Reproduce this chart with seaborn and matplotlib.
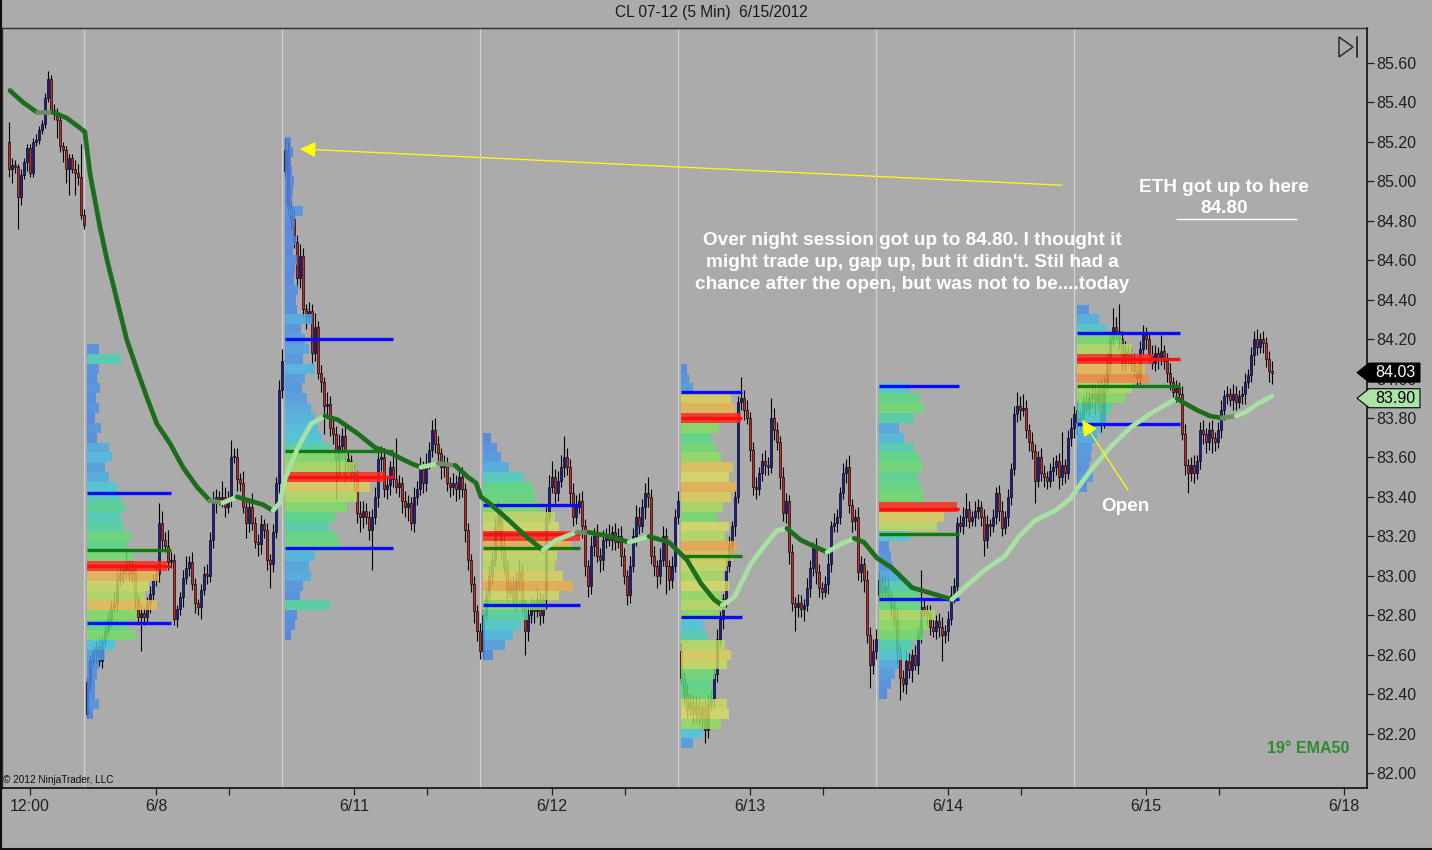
import numpy as np
import pandas as pd
import matplotlib
matplotlib.use("Agg")
import matplotlib.pyplot as plt
import seaborn as sns
from matplotlib.colors import LinearSegmentedColormap
from matplotlib.patches import Polygon
from matplotlib.lines import Line2D
import matplotlib.transforms as mtransforms

# ---------------- data ----------------
session_names = ["6/7", "6/8", "6/11", "6/12", "6/13", "6/14", "6/15"]
first_open = [85.20, 82.30, 85.05, 82.62, 82.62, 82.90, 83.84]

c_0607 = [85.06, 85.08, 85.07, 84.92, 85.03, 85.10, 85.17, 85.04, 85.20, 85.21,
          85.26, 85.29, 85.42, 85.52, 85.36, 85.35, 85.31, 85.18, 85.16, 85.06,
          85.12, 85.06, 85.04, 85.02, 84.83, 84.78]
up_0607 = [10, 4, 3, 2, 3, 2, 2, 2, 2, 3, 2, 2, 3, 4, 2, 3, 2, 2, 2, 2, 2, 2, 5, 5, 17, 3]
dn_0607 = [4, 7, 3, 16, 4, 2, 5, 2, 2, 2, 2, 2, 2, 2, 2, 4, 9, 3, 6, 7, 13, 2, 11, 4, 2, 2]

c_0608 = [82.46, 82.57, 82.61, 82.64, 82.57, 82.67, 82.72, 82.78, 82.84, 82.86,
          82.98, 83.01, 83.03, 83.04, 83.01, 83.03, 82.88, 82.79, 82.81, 82.79,
          82.86, 82.91, 82.98, 83.01, 83.27, 83.18, 83.15, 83.07, 83.08, 82.78,
          82.83, 82.89, 82.99, 83.04, 83.07, 82.96, 82.86, 82.84, 82.93, 83.01,
          83.00, 83.18, 83.37, 83.40, 83.39, 83.40, 83.35, 83.39, 83.60, 83.60,
          83.49, 83.47, 83.35, 83.27, 83.35, 83.27, 83.17, 83.16, 83.26, 83.23,
          83.08, 83.06, 83.22, 83.47, 83.94, 84.09]
up_0608 = [2, 3, 4, 3, 5, 3, 2, 4, 3, 6, 5, 4, 3, 9, 4, 5, 3, 2, 4, 3,
           3, 4, 3, 5, 10, 6, 4, 8, 4, 3, 2, 3, 4, 6, 3, 5, 3, 2, 3, 4,
           5, 4, 6, 4, 3, 8, 5, 4, 9, 5, 5, 3, 6, 4, 4, 7, 3, 4, 5, 3,
           4, 3, 4, 3, 5, 6]
dn_0608 = [2, 4, 3, 5, 3, 4, 3, 2, 4, 3, 4, 3, 5, 4, 3, 4, 5, 3, 17, 4,
           3, 5, 4, 3, 4, 5, 3, 4, 3, 3, 4, 3, 5, 3, 4, 3, 5, 4, 6, 3,
           4, 3, 4, 5, 3, 4, 5, 3, 4, 3, 6, 4, 3, 8, 5, 4, 3, 6, 5, 4,
           5, 12, 4, 3, 5, 4]

c_0611 = [85.16, 84.87, 84.81, 84.69, 84.51, 84.62, 84.35, 84.31, 84.34, 84.13,
          84.26, 84.03, 83.98, 83.86, 83.87, 83.75, 83.72, 83.59, 83.66, 83.71,
          83.59, 83.58, 83.52, 83.49, 83.32, 83.30, 83.33, 83.30, 83.23, 83.30,
          83.40, 83.59, 83.60, 83.44, 83.46, 83.55, 83.49, 83.45, 83.47, 83.38,
          83.35, 83.37, 83.27, 83.40, 83.44, 83.54, 83.47, 83.57, 83.64, 83.74,
          83.67, 83.62, 83.55, 83.56, 83.47, 83.45, 83.47, 83.44, 83.50, 83.44,
          83.23, 83.08, 82.96, 82.82, 82.72, 82.62]
up_0611 = [6, 4, 3, 5, 4, 6, 4, 3, 5, 4, 7, 3, 4, 3, 6, 4, 5, 4, 6, 4,
           5, 4, 3, 5, 4, 6, 5, 4, 3, 4, 5, 4, 6, 5, 4, 3, 5, 21, 4, 3,
           5, 4, 3, 5, 4, 6, 4, 5, 4, 5, 6, 4, 3, 5, 4, 3, 5, 4, 3, 5,
           3, 4, 3, 4, 3, 4]
dn_0611 = [3, 4, 5, 3, 4, 5, 4, 6, 3, 5, 4, 3, 5, 14, 5, 4, 5, 20, 8, 7,
           12, 5, 4, 6, 5, 8, 6, 4, 5, 20, 4, 5, 6, 4, 5, 5, 4, 3, 5, 6,
           5, 7, 4, 5, 4, 3, 5, 4, 3, 4, 5, 4, 6, 5, 4, 5, 4, 6, 5, 4,
           6, 5, 4, 6, 5, 4]

c_0612 = [82.80, 82.90, 83.00, 83.08, 83.25, 83.32, 83.15, 83.05, 82.92, 82.95,
          82.88, 82.98, 83.02, 82.85, 82.72, 82.80, 82.85, 82.82, 82.88, 82.80,
          82.88, 83.30, 83.45, 83.50, 83.42, 83.48, 83.55, 83.60, 83.55, 83.42,
          83.30, 83.35, 83.38, 83.25, 83.05, 82.95, 83.15, 83.20, 83.10, 83.08,
          83.18, 83.20, 83.18, 83.22, 83.17, 83.20, 83.10, 83.00, 82.90, 83.05,
          83.20, 83.30, 83.25, 83.35, 83.42, 83.40, 83.10, 83.05, 83.00, 83.08,
          83.20, 83.05, 82.98, 83.05, 83.30, 83.38]
up_0612 = [3, 4, 5, 4, 5, 6, 4, 5, 3, 4, 5, 4, 6, 4, 3, 5, 4, 3, 6, 4,
           3, 5, 6, 8, 4, 5, 6, 11, 5, 4, 5, 6, 4, 5, 4, 3, 5, 4, 6, 4,
           5, 4, 6, 3, 5, 4, 5, 4, 3, 5, 4, 6, 5, 4, 5, 8, 4, 5, 3, 6,
           5, 4, 3, 5, 4, 5]
dn_0612 = [4, 3, 5, 4, 3, 5, 6, 4, 5, 3, 4, 6, 5, 4, 12, 5, 4, 6, 3, 5,
           4, 5, 4, 3, 5, 4, 3, 5, 4, 6, 5, 4, 3, 6, 5, 6, 4, 5, 3, 6,
           5, 4, 3, 5, 4, 3, 5, 4, 5, 4, 3, 5, 4, 3, 6, 5, 4, 5, 6, 4,
           3, 14, 5, 4, 3, 4]

c_0613 = [82.48, 82.40, 82.32, 82.36, 82.30, 82.34, 82.28, 82.33, 82.22, 82.35,
          82.38, 82.50, 82.68, 82.78, 82.88, 83.05, 83.15, 83.25, 83.40, 83.88,
          83.90, 83.84, 83.80, 83.64, 83.45, 83.44, 83.52, 83.58, 83.56, 83.55,
          83.80, 83.74, 83.68, 83.50, 83.32, 83.38, 83.12, 82.86, 82.84, 82.86,
          82.83, 82.85, 82.94, 83.04, 83.14, 83.02, 82.94, 82.92, 82.96, 83.06,
          83.25, 83.27, 83.30, 83.42, 83.52, 83.55, 83.36, 83.28, 83.30, 83.02,
          83.06, 82.98, 82.70, 82.55, 82.62, 82.68]
up_0613 = [4, 3, 5, 4, 3, 5, 4, 3, 4, 5, 4, 3, 5, 4, 3, 4, 5, 3, 4, 3,
           11, 4, 5, 3, 4, 5, 3, 4, 6, 4, 10, 5, 4, 3, 5, 4, 3, 4, 3, 5,
           4, 3, 5, 4, 3, 5, 4, 3, 4, 6, 3, 5, 4, 3, 5, 4, 6, 3, 4, 5,
           4, 3, 5, 4, 6, 5]
dn_0613 = [3, 5, 4, 3, 5, 4, 3, 6, 7, 4, 3, 5, 4, 3, 5, 4, 3, 4, 5, 3,
           4, 5, 3, 6, 4, 5, 3, 4, 5, 4, 3, 5, 4, 6, 4, 5, 6, 4, 12, 5,
           4, 6, 3, 5, 4, 6, 5, 4, 3, 5, 4, 3, 5, 4, 3, 5, 4, 6, 5, 4,
           5, 6, 4, 12, 5, 4]

c_0614 = [82.98, 82.92, 82.95, 82.90, 82.84, 82.78, 82.62, 82.48, 82.45, 82.57,
          82.52, 82.60, 82.55, 82.70, 82.84, 82.82, 82.80, 82.74, 82.72, 82.77,
          82.74, 82.70, 82.72, 82.78, 82.90, 82.95, 83.27, 83.25, 83.30, 83.34,
          83.28, 83.30, 83.33, 83.35, 83.30, 83.18, 83.26, 83.25, 83.30, 83.42,
          83.33, 83.24, 83.30, 83.40, 83.54, 83.82, 83.86, 83.84, 83.85, 83.74,
          83.68, 83.63, 83.48, 83.60, 83.52, 83.50, 83.48, 83.53, 83.55, 83.58,
          83.50, 83.56, 83.52, 83.70, 83.75, 83.82]
up_0614 = [4, 3, 5, 4, 3, 4, 5, 3, 4, 5, 4, 3, 5, 4, 19, 4, 3, 5, 4, 3,
           4, 5, 3, 4, 5, 4, 3, 4, 5, 8, 4, 3, 5, 4, 3, 4, 5, 3, 4, 3,
           4, 5, 3, 4, 3, 4, 7, 5, 7, 4, 3, 5, 4, 3, 5, 4, 3, 4, 5, 3,
           4, 17, 3, 4, 5, 4]
dn_0614 = [3, 5, 4, 3, 5, 4, 6, 11, 4, 5, 4, 6, 3, 5, 4, 3, 5, 4, 3, 4,
           5, 13, 4, 5, 3, 4, 5, 3, 4, 5, 4, 3, 5, 4, 5, 8, 4, 5, 3, 4,
           5, 4, 3, 5, 4, 3, 4, 5, 3, 4, 5, 4, 11, 3, 4, 5, 4, 3, 5, 4,
           6, 4, 5, 3, 4, 5]

c_0615 = [83.78, 83.80, 83.88, 83.85, 83.90, 83.92, 83.88, 83.94, 83.78, 83.97,
          84.08, 84.20, 84.26, 84.24, 84.20, 84.08, 84.14, 84.12, 84.08, 84.04,
          84.01, 84.15, 84.22, 84.20, 84.12, 84.08, 84.13, 84.10, 84.14, 84.09,
          84.03, 83.98, 83.93, 83.95, 83.92, 83.72, 83.56, 83.52, 83.56, 83.52,
          83.58, 83.74, 83.72, 83.68, 83.74, 83.70, 83.68, 83.74, 83.84, 83.91,
          83.92, 83.89, 83.92, 83.88, 83.91, 83.92, 83.98, 84.02, 84.12, 84.20,
          84.16, 84.20, 84.18, 84.10, 84.04, 84.03]
up_0615 = [5, 4, 3, 6, 4, 5, 3, 4, 6, 4, 5, 4, 10, 5, 14, 4, 5, 3, 4, 5,
           3, 4, 5, 4, 3, 5, 4, 3, 8, 3, 4, 5, 3, 4, 3, 4, 5, 3, 4, 5,
           3, 4, 5, 3, 4, 5, 3, 4, 5, 3, 4, 3, 5, 4, 3, 4, 5, 3, 4, 4,
           5, 3, 4, 3, 4, 5]
dn_0615 = [6, 4, 5, 3, 4, 5, 6, 4, 5, 3, 4, 5, 3, 4, 5, 3, 4, 5, 4, 3,
           5, 4, 3, 5, 4, 3, 4, 5, 3, 4, 5, 4, 3, 5, 4, 3, 5, 10, 4, 5,
           3, 4, 5, 6, 4, 8, 5, 3, 4, 5, 4, 3, 5, 4, 3, 4, 5, 3, 4, 5,
           4, 3, 5, 4, 6, 6]

closes = [c_0607, c_0608, c_0611, c_0612, c_0613, c_0614, c_0615]
upper_wicks = [up_0607, up_0608, up_0611, up_0612, up_0613, up_0614, up_0615]
lower_wicks = [dn_0607, dn_0608, dn_0611, dn_0612, dn_0613, dn_0614, dn_0615]

# volume profiles: top price level and volume per 0.05 level (top -> bottom)
prof_tops = [84.15, 85.20, 83.70, 84.05, 83.95, 84.35]
vol_0608 = [12, 34, 12, 10, 13, 9, 12, 8, 14, 10, 22, 25, 18, 22, 30, 34, 38, 34, 36, 44,
            40, 46, 80, 72, 62, 58, 70, 50, 40, 48, 28, 18, 12, 10, 8, 8, 12, 6]
vol_0611 = [6, 8, 6, 7, 9, 8, 7, 18, 10, 9, 11, 8, 12, 10, 9, 13, 11, 12, 27, 16,
            20, 24, 18, 30, 20, 17, 22, 26, 30, 33, 37, 45, 62, 70, 100, 85, 72, 62, 50, 44,
            52, 55, 30, 24, 26, 18, 15, 45, 12, 10, 6]
vol_0612 = [8, 14, 18, 26, 40, 50, 52, 58, 72, 76, 97, 88, 74, 72, 80, 90, 76, 62, 45, 38,
            30, 22, 10]
vol_0613 = [6, 8, 12, 50, 54, 60, 38, 30, 35, 40, 52, 48, 55, 50, 42, 36, 48, 44, 56, 52,
            46, 42, 48, 40, 44, 38, 22, 26, 44, 50, 46, 34, 30, 32, 46, 48, 40, 22, 12]
vol_0614 = [30, 40, 45, 35, 20, 25, 34, 40, 44, 38, 42, 45, 78, 65, 58, 30, 10, 12, 14, 22,
            34, 40, 42, 56, 50, 45, 34, 30, 20, 16, 12, 8]
vol_0615 = [12, 22, 30, 45, 55, 76, 68, 72, 55, 48, 35, 30, 24, 20, 15, 14, 12, 16, 10]
profiles = [vol_0608, vol_0611, vol_0612, vol_0613, vol_0614, vol_0615]

# value area high/low, point of control, green level, line length (px of chart)
va_high = [83.42, 84.20, 83.36, 83.93, 83.96, 84.23]
va_low = [82.76, 83.14, 82.85, 82.79, 82.88, 83.77]
poc = [83.05, 83.50, 83.21, 83.80, 83.34, 84.10]
green_lvl = [83.13, 83.63, 83.14, 83.10, 83.21, 83.96]
level_len = [84, 108, 97, 61, 80, 103]

# EMA50: bar index, value
ema_n = [0.3, 4.7, 9.3, 11.3, 14.7, 19.3, 23.7, 25.3, 27, 30.3, 32.7, 39.2, 43, 46.3, 49.3,
         53.7, 58, 62.7, 67, 71.3, 76, 80.3, 84.7, 88, 90.3, 92, 96.3, 100.7, 105.3, 109.7,
         116.3, 122, 127.3, 134, 137.3, 143, 148.7, 153, 155.7, 157.3, 160, 166.7, 172.3, 178,
         182.3, 189, 193.3, 200, 206.7, 213.3, 220, 226, 230.7, 235, 237.7, 241.7, 247.3,
         251.7, 256, 259.3, 264, 268.3, 272.7, 277.3, 281.7, 285, 289.3, 294.3, 301, 307.7,
         314.3, 320, 325.3, 332, 336.7, 342, 348.7, 353.7, 360.3, 367, 373.7, 380.3, 387,
         389.3, 391.3, 396, 400.3, 404.3, 409, 412.3, 416, 421]
ema_v = [85.46, 85.40, 85.35, 85.35, 85.35, 85.32, 85.27, 85.25, 85.04, 84.77, 84.60, 84.20,
         84.03, 83.89, 83.77, 83.67, 83.55, 83.45, 83.38, 83.37, 83.40, 83.38, 83.36, 83.33,
         83.37, 83.49, 83.65, 83.77, 83.81, 83.79, 83.72, 83.65, 83.62, 83.57, 83.55, 83.57,
         83.56, 83.50, 83.47, 83.40, 83.37, 83.28, 83.20, 83.13, 83.18, 83.22, 83.22, 83.20,
         83.17, 83.20, 83.17, 83.08, 82.96, 82.88, 82.85, 82.89, 83.06, 83.15, 83.23, 83.24,
         83.18, 83.15, 83.12, 83.16, 83.19, 83.17, 83.09, 83.04, 82.94, 82.91, 82.88, 82.96,
         83.03, 83.10, 83.20, 83.28, 83.33, 83.39, 83.53, 83.65, 83.75, 83.82, 83.88, 83.90,
         83.88, 83.84, 83.81, 83.80, 83.81, 83.83, 83.87, 83.91]

x_tick_labels = ["12:00", "6/8", "6/11", "6/12", "6/13", "6/14", "6/15", "6/18"]
y_tick_values = [82.00, 82.20, 82.40, 82.60, 82.80, 83.00, 83.20, 83.40, 83.60,
                 83.80, 84.00, 84.20, 84.40, 84.60, 84.80, 85.00, 85.20, 85.40, 85.60]
last_price = 84.03
last_ema = 83.90

# ---------------- style ----------------
BG = "#ababab"
UP = "#1c1ca8"
DOWN = "#c82828"
EMA_COLORS = {"up": "#a8e2a2", "dn": "#1d6d1d", "flat": "#6e8d62"}

sns.set_theme(style="white", rc={"axes.facecolor": BG, "figure.facecolor": BG})
plt.rcParams["font.family"] = ["Liberation Sans", "DejaVu Sans"]

fig = plt.figure(figsize=(14.32, 8.5), dpi=100, facecolor=BG)
ax = fig.add_axes([2 / 1432, 62 / 850, 1365 / 1432, 760 / 850])
ax.set_facecolor(BG)

# ---------------- build bars ----------------
rows = []
n = 0
sess_first_bar = []
for s, (o0, cs, us, ds) in enumerate(zip(first_open, closes, upper_wicks, lower_wicks)):
    sess_first_bar.append(n)
    prev = o0
    for c, u, d in zip(cs, us, ds):
        o = prev
        rows.append(dict(n=n, open=o, close=c,
                         high=max(o, c) + u / 100.0, low=min(o, c) - d / 100.0))
        prev = c
        n += 1
bars = pd.DataFrame(rows)

# session separators
for fb in sess_first_bar[1:]:
    ax.axvline(fb - 0.95, color="#d2d2d2", lw=0.9, zorder=1)

# candles
ax.vlines(bars["n"], bars["low"], bars["high"], color="black", lw=0.8, zorder=2)
body_bottom = np.minimum(bars["open"], bars["close"])
body_h = np.maximum(np.abs(bars["close"] - bars["open"]), 0.006)
body_col = np.where(bars["close"] >= bars["open"], UP, DOWN)
ax.bar(bars["n"], body_h, bottom=body_bottom, width=0.82, color=body_col,
       edgecolor="black", linewidth=0.45, zorder=2.1)

# volume profiles
cmap = LinearSegmentedColormap.from_list("vp", [
    (0.0, "#4a74e6"), (0.22, "#4a9ee8"), (0.36, "#44c8e4"), (0.5, "#50dc84"),
    (0.64, "#84e05c"), (0.8, "#dadc5e"), (0.93, "#eeae48"), (1.0, "#ff2a1a")])
PX_PER_BAR = 3.0
for k, (top, vols) in enumerate(zip(prof_tops, profiles)):
    left = sess_first_bar[k + 1] - 0.1
    vols = np.asarray(vols, float)
    levels = np.round(top - 0.05 * np.arange(len(vols)), 2)
    cols = cmap(vols / vols.max())
    ax.barh(levels, vols / PX_PER_BAR, height=0.05, left=left, color=cols,
            alpha=0.82, linewidth=0, zorder=3)
    right = left + level_len[k] / PX_PER_BAR
    ax.hlines([va_high[k], va_low[k]], left, right, color="#0a0aff", lw=2.4, zorder=4)
    ax.hlines(poc[k], left, right, color="#ff1010", lw=2.4, zorder=4)
    ax.hlines(green_lvl[k], left, right, color="#107a10", lw=2.4, zorder=4)

# EMA with slope colouring
ema = pd.DataFrame({"n": ema_n, "v": ema_v})
slope = np.diff(ema["v"].values) / np.diff(ema["n"].values)
cls = np.where(slope > 0.0025, "up", np.where(slope < -0.0025, "dn", "flat"))
start = 0
for i in range(1, len(cls) + 1):
    if i == len(cls) or cls[i] != cls[start]:
        seg = ema.iloc[start:i + 1]
        sns.lineplot(data=seg, x="n", y="v", color=EMA_COLORS[cls[start]], lw=3.4,
                     ax=ax, zorder=5, sort=False, estimator=None,
                     solid_capstyle="round")
        start = i

# ---------------- axes ----------------
ax.set_xlim(-2.33, 452.67)
ax.set_ylim(81.924, 85.777)
ax.set_xlabel("")
ax.set_ylabel("")
ax.yaxis.tick_right()
ax.set_yticks(y_tick_values)
ax.set_yticklabels([f"{v:.2f}" for v in y_tick_values])
major_pos = [7] + [fb + 23 for fb in sess_first_bar[1:]] + [sess_first_bar[-1] + 66 + 23]
minor_pos = [fb + 47.3 for fb in sess_first_bar[1:]]
ax.set_xticks(major_pos)
ax.set_xticklabels(x_tick_labels)
ax.set_xticks(minor_pos, minor=True)
ax.tick_params(axis="x", which="both", direction="out", length=5, width=0.9,
               color="#202020", labelsize=11.5, labelcolor="#202020", pad=3, bottom=True)
ax.tick_params(axis="y", direction="out", length=5, width=0.9, color="#202020",
               labelsize=11.5, labelcolor="#202020", pad=2, right=True, left=False)
for side in ["right", "bottom"]:
    ax.spines[side].set_color("#101010")
    ax.spines[side].set_linewidth(1.2)
for side in ["top", "left"]:
    ax.spines[side].set_color("#303030")
    ax.spines[side].set_linewidth(1.0)
ax.grid(False)

# ---------------- price tags on the axis ----------------
trans = mtransforms.blended_transform_factory(ax.transAxes, ax.transData)
h = 19 / 197.2
for price, fc, tc in [(last_price, "black", "white"), (last_ema, "#acE4a8", "black")]:
    pts = [(0.9927, price), (1.0015, price + h / 2), (1.0388, price + h / 2),
           (1.0388, price - h / 2), (1.0015, price - h / 2)]
    ax.add_patch(Polygon(pts, closed=True, transform=trans, facecolor=fc,
                         edgecolor="black", lw=0.8, clip_on=False, zorder=10))
    ax.text(1.0205, price, f"{price:.2f}", transform=trans, ha="center", va="center",
            color=tc, fontsize=11.5, zorder=11, clip_on=False)

# ---------------- annotations ----------------
arrow_kw = dict(arrowstyle="-|>", color="#ffff00", lw=0.9, mutation_scale=24,
                shrinkA=0, shrinkB=0)
ax.annotate("", xy=(97, 85.164), xytext=(351, 84.98), arrowprops=arrow_kw, zorder=7)
ax.annotate("", xy=(357.7, 83.79), xytext=(373, 83.435), arrowprops=arrow_kw, zorder=7)

txt_kw = dict(color="white", fontweight="bold", fontsize=13.7, ha="center",
              va="center", zorder=8)
ax.text(301, 84.586, "Over night session got up to 84.80. I thought it\n"
        "might trade up, gap up, but it didn't. Stil had a\n"
        "chance after the open, but was not to be....today",
        linespacing=1.38, **txt_kw)
ax.text(405, 84.915, "ETH got up to here\n84.80", linespacing=1.38, **txt_kw)
ax.hlines(84.81, 389, 429.3, color="white", lw=1.0, zorder=8)
ax.text(372, 83.349, "Open", **txt_kw)
ax.text(433, 82.126, "19° EMA50", color="#2f8a2f", fontweight="bold", fontsize=11.5,
        ha="center", va="center", zorder=8)
ax.text(0.001, 0.0105, "© 2012 NinjaTrader, LLC", transform=ax.transAxes,
        fontsize=7.2, color="#101010", ha="left", va="center", zorder=8)

# scroll-to-end icon
icon_tri = [(1337 / 1365, 751 / 760), (1337 / 1365, 731 / 760), (1351 / 1365, 741 / 760)]
ax.add_patch(Polygon(icon_tri, closed=True, transform=ax.transAxes, fill=False,
                     edgecolor="#2a2a2a", lw=1.1, zorder=9))
ax.add_line(Line2D([1355 / 1365, 1355 / 1365], [751 / 760, 731 / 760],
                   transform=ax.transAxes, color="#2a2a2a", lw=1.3, zorder=9))

# title and window border
fig.text(711 / 1432, 1 - 13 / 850, "CL 07-12 (5 Min)  6/15/2012", ha="center",
         va="center", fontsize=11.2, color="#1a1a1a")
fig.add_artist(Line2D([0.0005, 0.0005], [0, 1], transform=fig.transFigure,
                      color="#101010", lw=1.5))
fig.add_artist(Line2D([0, 1], [0.001, 0.001], transform=fig.transFigure,
                      color="#101010", lw=1.5))

fig.savefig("out.png", dpi=100, facecolor=BG)
